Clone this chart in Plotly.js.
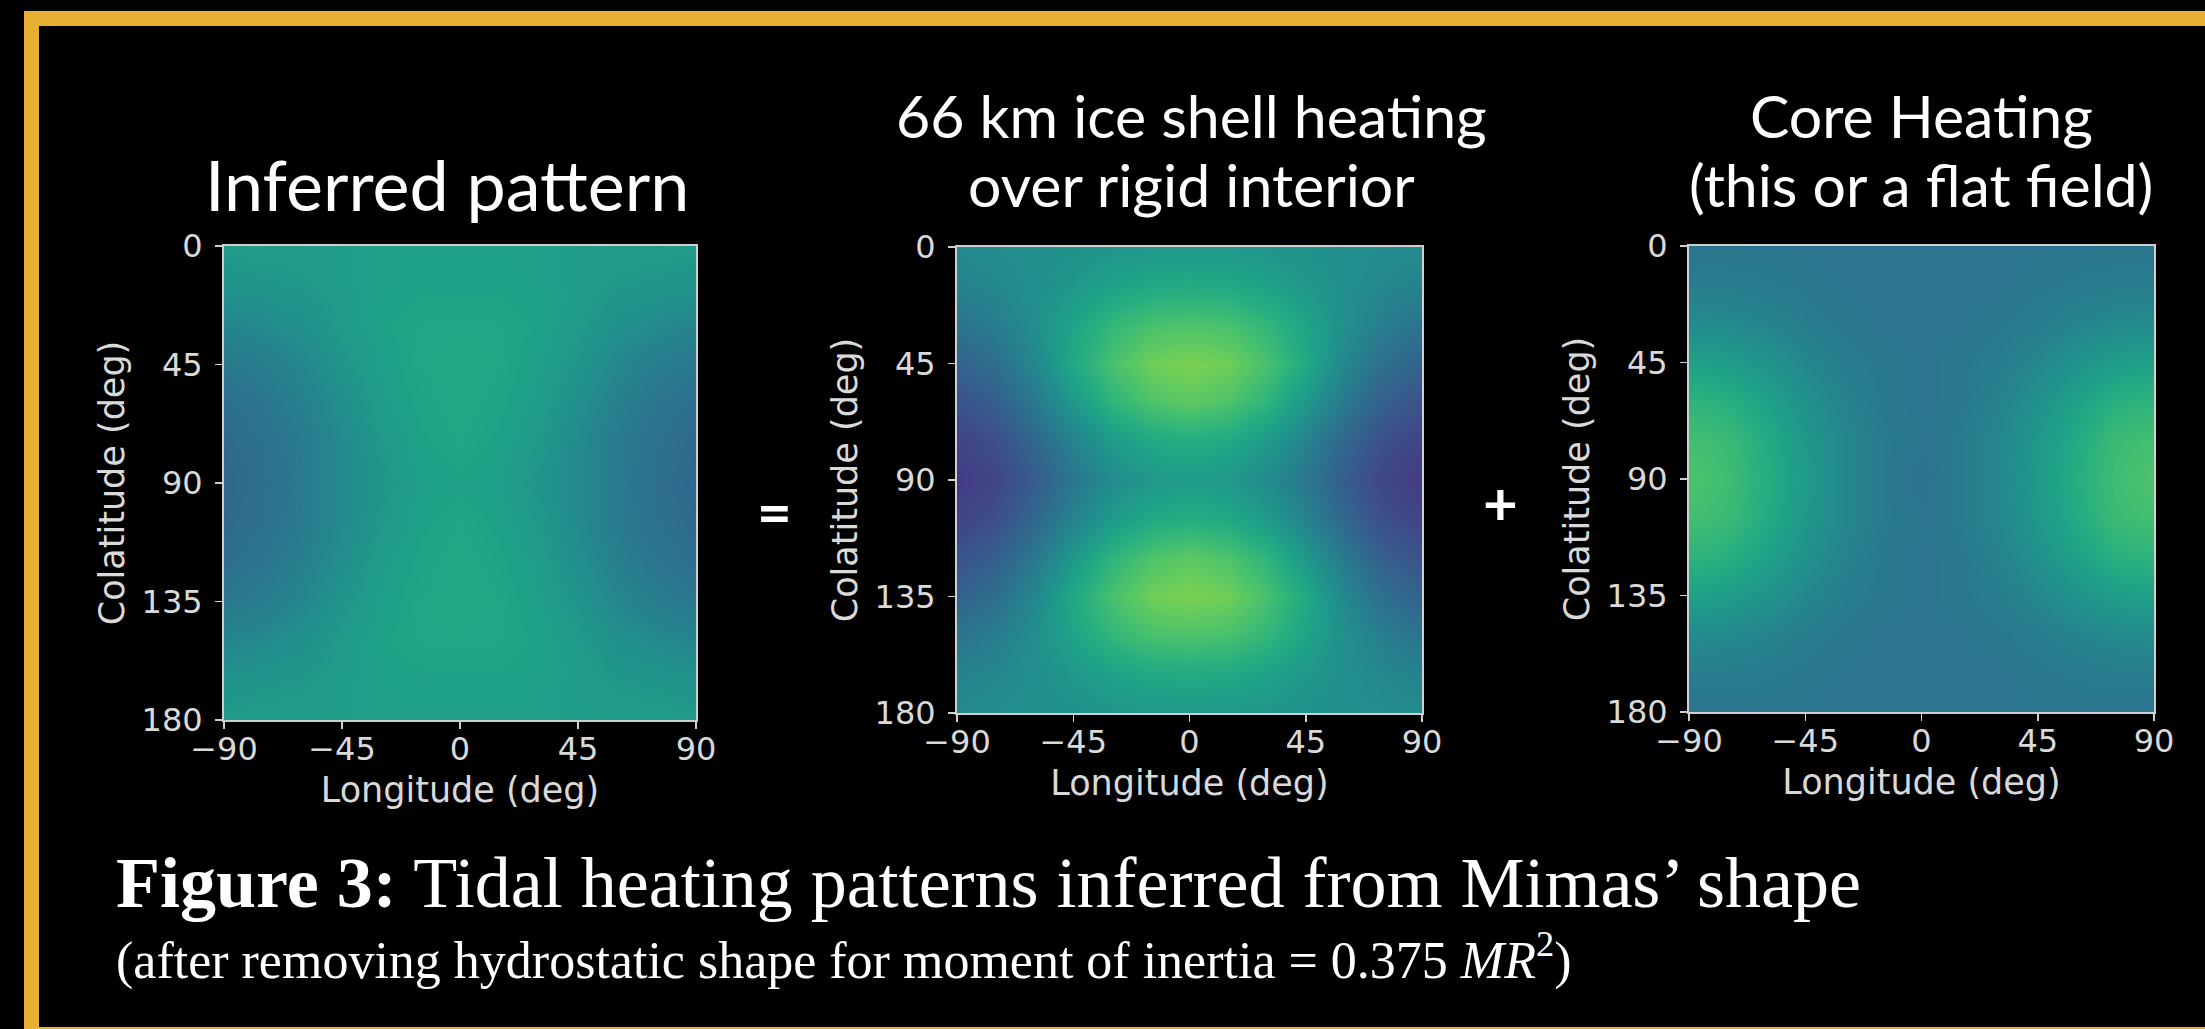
<!DOCTYPE html>
<html>
<head>
<meta charset="utf-8">
<script src="https://cdn.plot.ly/plotly-3.0.1.min.js"></script>
<style>
html,body{margin:0;padding:0;background:#000;}
#chart{width:2205px;height:1029px;}
</style>
</head>
<body>
<div id="chart"></div>
<script>
// ---- data (viridis fraction) ----
const longitudes = [-90,-75,-60,-45,-30,-15,0,15,30,45,60,75,90];
const colatitudes = [0,15,30,45,60,75,90,105,120,135,150,165,180];
const lonTickVals = [-90,-45,0,45,90];
const lonTickText = ['\u221290','\u221245','0','45','90'];
const colatTickVals = [0,45,90,135,180];
const colatTickText = ['0','45','90','135','180'];

const panelTitles = [
  ['Inferred pattern'],
  ['66 km ice shell heating','over rigid interior'],
  ['Core Heating','(this or a flat field)']
];
const xAxisLabel = 'Longitude (deg)';
const yAxisLabel = 'Colatitude (deg)';
const captionMain = '<b>Figure 3:</b> Tidal heating patterns inferred from Mimas\u2019 shape';
const captionSub = '(after removing hydrostatic shape for moment of inertia = 0.375 <i>MR</i><sup>2</sup>)';

const inferredZ = [
  [0.54,0.55,0.55,0.55,0.56,0.56,0.56,0.56,0.56,0.55,0.55,0.55,0.54],
  [0.51,0.52,0.53,0.55,0.56,0.57,0.57,0.57,0.56,0.55,0.53,0.52,0.51],
  [0.45,0.47,0.50,0.54,0.57,0.59,0.59,0.59,0.57,0.54,0.50,0.47,0.45],
  [0.40,0.42,0.46,0.52,0.56,0.59,0.60,0.59,0.56,0.52,0.46,0.42,0.40],
  [0.36,0.39,0.43,0.49,0.55,0.58,0.60,0.58,0.55,0.49,0.43,0.39,0.36],
  [0.34,0.37,0.41,0.47,0.53,0.57,0.59,0.57,0.53,0.47,0.41,0.37,0.34],
  [0.33,0.36,0.41,0.47,0.52,0.56,0.57,0.56,0.52,0.47,0.41,0.36,0.33],
  [0.34,0.37,0.41,0.47,0.53,0.57,0.59,0.57,0.53,0.47,0.41,0.37,0.34],
  [0.36,0.39,0.43,0.49,0.55,0.58,0.60,0.58,0.55,0.49,0.43,0.39,0.36],
  [0.40,0.42,0.46,0.52,0.56,0.59,0.60,0.59,0.56,0.52,0.46,0.42,0.40],
  [0.45,0.47,0.50,0.54,0.57,0.59,0.59,0.59,0.57,0.54,0.50,0.47,0.45],
  [0.51,0.52,0.53,0.55,0.56,0.57,0.57,0.57,0.56,0.55,0.53,0.52,0.51],
  [0.54,0.55,0.55,0.55,0.56,0.56,0.56,0.56,0.56,0.55,0.55,0.55,0.54]
];

const shellZ = [
  [0.47,0.48,0.49,0.50,0.52,0.53,0.53,0.53,0.52,0.50,0.49,0.48,0.47],
  [0.44,0.46,0.49,0.53,0.57,0.60,0.61,0.60,0.57,0.53,0.49,0.46,0.44],
  [0.38,0.42,0.49,0.58,0.66,0.71,0.72,0.71,0.66,0.58,0.49,0.42,0.38],
  [0.31,0.36,0.46,0.60,0.71,0.78,0.80,0.78,0.71,0.60,0.46,0.36,0.31],
  [0.25,0.30,0.40,0.53,0.65,0.72,0.75,0.72,0.65,0.53,0.40,0.30,0.25],
  [0.20,0.24,0.33,0.44,0.54,0.60,0.62,0.60,0.54,0.44,0.33,0.24,0.20],
  [0.17,0.21,0.29,0.39,0.48,0.53,0.55,0.53,0.48,0.39,0.29,0.21,0.17],
  [0.20,0.24,0.33,0.44,0.54,0.60,0.62,0.60,0.54,0.44,0.33,0.24,0.20],
  [0.25,0.30,0.40,0.53,0.65,0.72,0.75,0.72,0.65,0.53,0.40,0.30,0.25],
  [0.31,0.36,0.46,0.60,0.71,0.78,0.80,0.78,0.71,0.60,0.46,0.36,0.31],
  [0.38,0.42,0.49,0.58,0.66,0.71,0.72,0.71,0.66,0.58,0.49,0.42,0.38],
  [0.44,0.46,0.49,0.53,0.57,0.60,0.61,0.60,0.57,0.53,0.49,0.46,0.44],
  [0.47,0.48,0.49,0.50,0.52,0.53,0.53,0.53,0.52,0.50,0.49,0.48,0.47]
];

const coreZ = [
  [0.39,0.39,0.39,0.39,0.39,0.39,0.39,0.39,0.39,0.39,0.39,0.39,0.39],
  [0.42,0.42,0.41,0.40,0.39,0.39,0.39,0.39,0.39,0.40,0.41,0.42,0.42],
  [0.48,0.47,0.45,0.42,0.40,0.39,0.39,0.39,0.40,0.42,0.45,0.47,0.48],
  [0.57,0.55,0.51,0.46,0.42,0.40,0.39,0.40,0.42,0.46,0.51,0.55,0.57],
  [0.65,0.63,0.57,0.50,0.44,0.40,0.39,0.40,0.44,0.50,0.57,0.63,0.65],
  [0.70,0.68,0.61,0.53,0.46,0.41,0.39,0.41,0.46,0.53,0.61,0.68,0.70],
  [0.72,0.69,0.62,0.54,0.46,0.41,0.38,0.41,0.46,0.54,0.62,0.69,0.72],
  [0.70,0.68,0.61,0.53,0.46,0.41,0.39,0.41,0.46,0.53,0.61,0.68,0.70],
  [0.65,0.63,0.57,0.50,0.44,0.40,0.39,0.40,0.44,0.50,0.57,0.63,0.65],
  [0.57,0.55,0.51,0.46,0.42,0.40,0.39,0.40,0.42,0.46,0.51,0.55,0.57],
  [0.48,0.47,0.45,0.42,0.40,0.39,0.39,0.39,0.40,0.42,0.45,0.47,0.48],
  [0.42,0.42,0.41,0.40,0.39,0.39,0.39,0.39,0.39,0.40,0.41,0.42,0.42],
  [0.39,0.39,0.39,0.39,0.39,0.39,0.39,0.39,0.39,0.39,0.39,0.39,0.39]
];

// ---- layout geometry (pixels) ----
const W = 2205, H = 1029;
const px = v => v / W;
const py = v => 1 - v / H;
const panels = [
  {x0:224, x1:696, y0:246, y1:720, z:inferredZ, cx:447, ty:[184], fs:70},
  {x0:957, x1:1422, y0:247, y1:713, z:shellZ, cx:1191, ty:[115,184], fs:59},
  {x0:1689, x1:2154, y0:246, y1:712, z:coreZ, cx:1921, ty:[115,184], fs:59}
];

const tickFont = {family:'DejaVu Sans', size:32, color:'#d9d9d9'};
const titleFont = {family:'DejaVu Sans', size:35, color:'#d9d9d9'};
const headFamily = 'Lato, Carlito, Calibri, sans-serif';

const data = [];
const layout = {
  width: W, height: H,
  margin: {l:0, r:0, t:0, b:0},
  paper_bgcolor: '#000000',
  plot_bgcolor: '#000000',
  showlegend: false,
  annotations: [],
  shapes: [{
    type:'rect', xref:'paper', yref:'paper',
    x0: px(31.5), x1: px(2240), y0: py(18.5), y1: py(1034.5),
    line:{color:'#e8b033', width:15}, fillcolor:'rgba(0,0,0,0)', layer:'above'
  }]
};

panels.forEach((p, i) => {
  const n = i === 0 ? '' : String(i + 1);
  data.push({
    type:'heatmap', x: longitudes, y: colatitudes, z: p.z,
    colorscale:'Viridis', zmin:0, zmax:1, zsmooth:'best', showscale:false,
    xaxis:'x' + n, yaxis:'y' + n, hoverinfo:'skip'
  });
  const axCommon = {
    showgrid:false, zeroline:false, showline:true, mirror:true,
    linecolor:'#cfcfcf', linewidth:2,
    ticks:'outside', ticklen:7, tickwidth:1.5, tickcolor:'#cfcfcf',
    tickfont: tickFont, tickmode:'array'
  };
  layout['xaxis' + n] = Object.assign({}, axCommon, {
    domain:[px(p.x0), px(p.x1)], range:[-90, 90], anchor:'y' + n,
    tickvals: lonTickVals, ticktext: lonTickText, ticklabelstandoff: -7,
    title:{text:xAxisLabel, font:titleFont, standoff:10}
  });
  layout['yaxis' + n] = Object.assign({}, axCommon, {
    domain:[py(p.y1), py(p.y0)], range:[180, 0], anchor:'x' + n,
    tickvals: colatTickVals, ticktext: colatTickText, ticklabelstandoff: 6,
    title:{text:yAxisLabel, font:titleFont, standoff:6}
  });
  panelTitles[i].forEach((t, k) => {
    layout.annotations.push({
      xref:'paper', yref:'paper', x: px(p.cx), y: py(p.ty[k]),
      xanchor:'center', yanchor:'middle', showarrow:false,
      text:t, font:{family:headFamily, size:p.fs, color:'#ffffff'}
    });
  });
});

// operators between panels
layout.annotations.push({
  xref:'paper', yref:'paper', x:px(774), y:py(511), xanchor:'center', yanchor:'middle',
  showarrow:false, text:'<b>=</b>', font:{family:headFamily, size:60, color:'#ffffff'}
});
layout.annotations.push({
  xref:'paper', yref:'paper', x:px(1500), y:py(502), xanchor:'center', yanchor:'middle',
  showarrow:false, text:'<b>+</b>', font:{family:headFamily, size:60, color:'#ffffff'}
});

// caption
layout.annotations.push({
  xref:'paper', yref:'paper', x:px(114), y:py(883), xanchor:'left', yanchor:'middle',
  showarrow:false, text:captionMain,
  font:{family:'Liberation Serif, serif', size:72, color:'#ffffff'}
});
layout.annotations.push({
  xref:'paper', yref:'paper', x:px(114), y:py(957), xanchor:'left', yanchor:'middle',
  showarrow:false, text:captionSub,
  font:{family:'Liberation Serif, serif', size:52, color:'#ffffff'}
});

Plotly.newPlot('chart', data, layout, {staticPlot:true, displayModeBar:false});
</script>
</body>
</html>
